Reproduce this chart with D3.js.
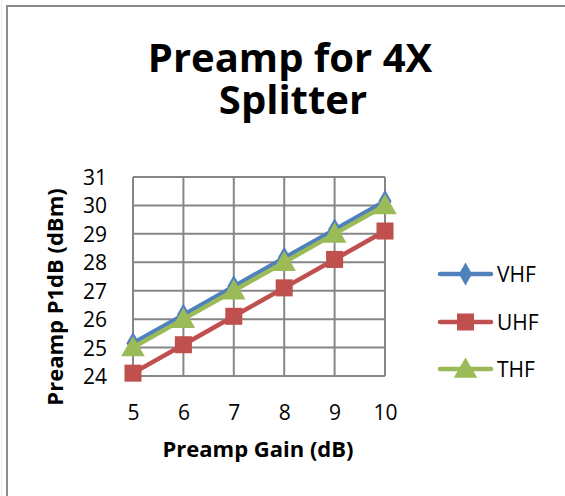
<!DOCTYPE html>
<html>
<head>
<meta charset="utf-8">
<script src="https://cdn.jsdelivr.net/npm/d3@7"></script>
<style>
  body { margin: 0; background: #fff; }
  text { font-family: "Open Sans", Lato, sans-serif; fill: #000; }
</style>
</head>
<body>
<div id="chart"></div>
<script>
// data
const gains = [5, 6, 7, 8, 9, 10];
const vhf = [25.15, 26.15, 27.15, 28.15, 29.15, 30.15];
const uhf = [24.1, 25.1, 26.1, 27.1, 28.1, 29.1];
const thf = [25, 26, 27, 28, 29, 30];
const yTicks = [24, 25, 26, 27, 28, 29, 30, 31];
const seriesNames = ["VHF", "UHF", "THF"];

const width = 565, height = 496;

const svg = d3.select('#chart')
              .append('svg')
              .attr('width', width)
              .attr('height', height);

// faint line at far left
svg.append('line')
   .attr('x1', 1.5).attr('x2', 1.5).attr('y1', 0).attr('y2', height)
   .attr('stroke', '#ececec').attr('stroke-width', 1);

// chart frame
svg.append('rect')
   .attr('x', 7).attr('y', 6)
   .attr('width', 570).attr('height', 500)
   .attr('fill', 'white')
   .attr('stroke', '#8c8c8c')
   .attr('stroke-width', 2);

//plot area
const plot = {left: 133, right: 385, top: 177, bottom: 376};

const x = d3.scaleLinear().domain([5, 10]).range([plot.left, plot.right]);
const y = d3.scaleLinear().domain([24, 31]).range([plot.bottom, plot.top]);

// grid lines
const grid = svg.append('g');
grid.selectAll('.hg')
    .data(yTicks)
    .enter()
    .append('line')
    .attr('x1', plot.left).attr('x2', plot.right)
    .attr('y1', (d) => y(d)).attr('y2', (d) => y(d))
    .attr('stroke', '#868686')
    .attr('stroke-width', 2);
grid.selectAll('.vg')
    .data(gains)
    .enter()
    .append('line')
    .attr('y1', plot.top).attr('y2', plot.bottom)
    .attr('x1', (d) => x(d)).attr('x2', (d) => x(d))
    .attr('stroke', '#868686')
    .attr('stroke-width', 2);

// axes, only labels shown
const yAxis = svg.append('g')
                 .attr('transform', `translate(${plot.left},0)`)
                 .call(d3.axisLeft(y).tickValues(yTicks).tickFormat(d3.format('d')).tickSize(0).tickPadding(26));
const xAxis = svg.append('g')
                 .attr('transform', `translate(0,${plot.bottom})`)
                 .call(d3.axisBottom(x).tickValues(gains).tickFormat(d3.format('d')).tickSize(0));
[yAxis, xAxis].forEach((a) => {
    a.select('.domain').remove();
    a.selectAll('text').attr('font-size', 21).attr('font-family', null);
});
yAxis.selectAll('text').attr('dy', '0.36em');
xAxis.selectAll('text').attr('y', 44).attr('dy', 0);

// titles (two lines like the original)
svg.append('text')
   .attr('text-anchor', 'middle')
   .attr('font-weight', 'bold')
   .attr('font-size', 40)
   .attr('x', 290).attr('y', 72)
   .text('Preamp for 4X');
svg.append('text')
   .attr('text-anchor', 'middle')
   .attr('font-weight', 'bold')
   .attr('font-size', 40)
   .attr('x', 293).attr('y', 114)
   .text('Splitter');

svg.append('text')
   .attr('text-anchor', 'middle')
   .attr('font-weight', 'bold')
   .attr('font-size', 22)
   .attr('x', 258).attr('y', 457)
   .text('Preamp Gain (dB)');

svg.append('text')
   .attr('text-anchor', 'middle')
   .attr('font-weight', 'bold')
   .attr('font-size', 22)
   .attr('transform', 'translate(63,297) rotate(-90)')
   .text('Preamp P1dB (dBm)');

// series
const colors = ['#4f81bd', '#c0504d', '#9bbb59'];
const symbols = [d3.symbolDiamond, d3.symbolSquare, d3.symbolTriangle];
const symSizes = [150, 290, 240];
const allSeries = [vhf, uhf, thf];

const line = d3.line()
               .x((d, i) => x(gains[i]))
               .y((d) => y(d));

allSeries.forEach((vals, s) => {
    const g = svg.append('g');
    g.append('path')
     .attr('d', line(vals))
     .attr('fill', 'none')
     .attr('stroke', colors[s])
     .attr('stroke-width', 4.5)
     .attr('stroke-linejoin', 'round');
    g.selectAll('path.m')
     .data(vals)
     .enter()
     .append('path')
     .attr('class', 'm')
     .attr('d', d3.symbol().type(symbols[s]).size(symSizes[s]))
     .attr('transform', (d, i) => `translate(${x(gains[i])},${y(d) + (s == 2 ? 2 : 0)})`)
     .attr('fill', colors[s]);
});

// legend
const legendY = [274, 322, 369];
const legend = svg.append('g')
                  .selectAll()
                  .data(seriesNames)
                  .enter()
                  .append('g')
                  .attr('transform', (d, i) => `translate(0,${legendY[i]})`);
legend.append('line')
      .attr('x1', 440).attr('x2', 491)
      .attr('stroke', (d, i) => colors[i])
      .attr('stroke-width', 4.5)
      .attr('stroke-linecap', 'round');
legend.append('path')
      .attr('d', (d, i) => d3.symbol().type(symbols[i]).size(symSizes[i])())
      .attr('transform', (d, i) => `translate(465.5,${i == 2 ? 2 : 0})`)
      .attr('fill', (d, i) => colors[i]);
legend.append('text')
      .attr('x', 497)
      .attr('dy', '0.36em')
      .attr('font-size', 21)
      .text((d) => d);
</script>
</body>
</html>
